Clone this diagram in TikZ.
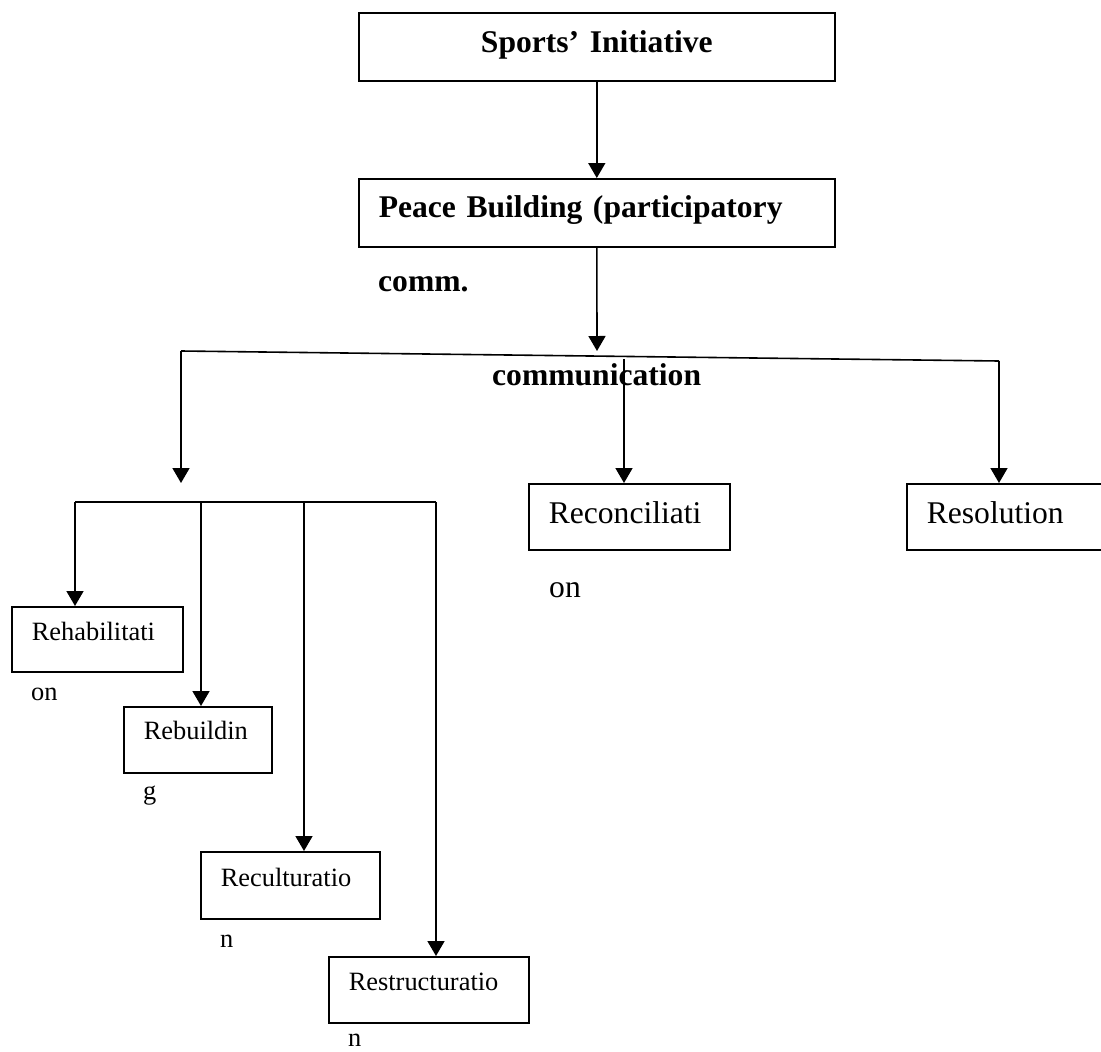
\documentclass[tikz,border=0pt]{standalone}
\usepackage{fontspec}
\setmainfont{Liberation Serif}
\usetikzlibrary{positioning,arrows.meta}

\tikzset{
  box/.style={draw, line width=1.6pt, anchor=north west, inner xsep=20pt, inner ysep=0pt, align=left},
  spill/.style={anchor=base west, inner sep=0pt},
  bigbf/.style={font=\fontsize{31.6}{36}\selectfont\bfseries},
  big/.style={font=\fontsize{31.6}{36}\selectfont},
  smalltxt/.style={font=\fontsize{26.4}{30}\selectfont},
  conn/.style={line width=1.6pt},
  arr/.style={conn, -{Triangle[width=17pt,length=15pt]}},
}

\begin{document}
\begin{tikzpicture}[x=1pt,y=-1pt]
   \useasboundingbox (0,0) rectangle (1101,1052);
   \clip (0,0) rectangle (1101,1052);

   % top
   \node[box, bigbf, align=center, text width=436pt, text height=40pt, text depth=28pt] (init) at (358,12) {Sports' Initiative};
   \node[box, bigbf, text width=436pt, text height=39pt, text depth=29pt] (peace) at (358,178) {Peace Building (participatory};
   \node[spill, bigbf] (comm) at (378,291) {comm.};
   \node[spill, bigbf] (commun) at (492,385) {communication};

   \coordinate (split) at (597,351);
   \coordinate (hl) at (181,351);
   \coordinate (hr) at (999,361);
   \coordinate (hm) at (624,359);
   \coordinate (sub) at (181,483);

   % middle row
   \node[box, big, text width=161pt, text height=40pt, text depth=26pt] (recon) at (528,483) {Reconciliati};
   \node[spill, big] (recontail) at (549,597) {on};
   \node[box, big, text width=180pt, text height=40pt, text depth=26pt] (resol) at (906,483) {Resolution};

   % lower branch
   \coordinate (b1) at (75,502);
   \coordinate (b2) at (201,502);
   \coordinate (b3) at (304,502);
   \coordinate (b4) at (436,502);

   \node[box, smalltxt, text width=131pt, text height=34pt, text depth=31pt] (rehab) at (11,606) {Rehabilitati};
   \node[spill, smalltxt] (rehabtail) at (31,700) {on};
   \node[box, smalltxt, text width=108pt, text height=33pt, text depth=33pt] (rebuild) at (123,706) {Rebuildin};
   \node[spill, smalltxt] (rebuildtail) at (143,799) {g};
   \node[box, smalltxt, text width=139pt, text height=35pt, text depth=32pt] (recult) at (200,851) {Reculturatio};
   \node[spill, smalltxt] (recultail) at (220,947) {n};
   \node[box, smalltxt, text width=160pt, text height=34pt, text depth=32pt] (restr) at (328,956) {Restructuratio};
   \node[spill, smalltxt] (restrtail) at (348,1046) {n};

   \draw[arr] (init) -- (peace);
   \draw[arr] (peace) -- (split);
   \draw[conn] (hl) -- (hr);
   \draw[arr] (hl) -- (sub);
   \draw[arr] (hm) -- (hm |- recon.north);
   \draw[arr] (hr) -- (hr |- resol.north);

   \draw[conn] (b1) -- (b4);
   \draw[arr] (b1) -- (b1 |- rehab.north);
   \draw[arr] (b2) -- (b2 |- rebuild.north);
   \draw[arr] (b3) -- (b3 |- recult.north);
   \draw[arr] (b4) -- (b4 |- restr.north);
\end{tikzpicture}
\end{document}
